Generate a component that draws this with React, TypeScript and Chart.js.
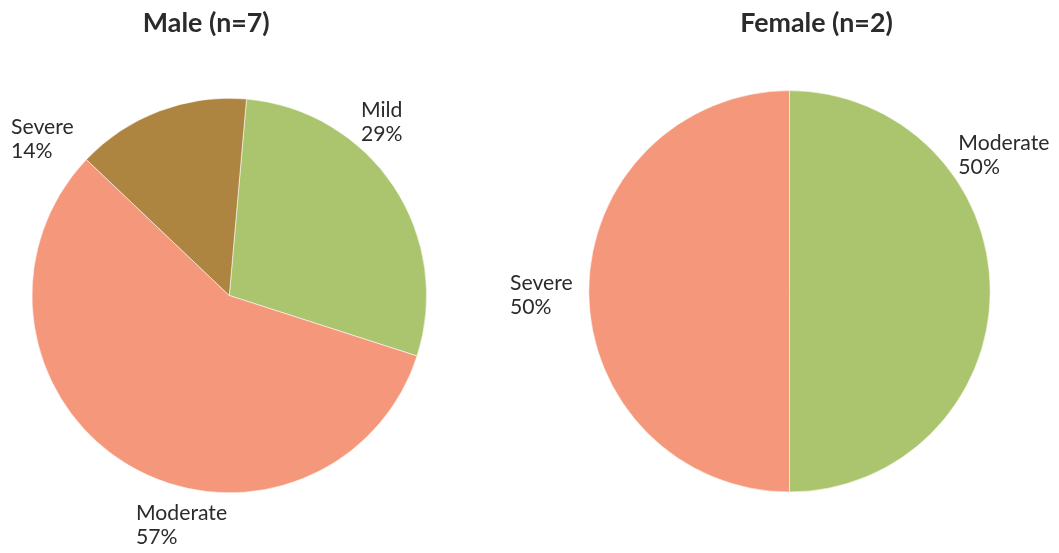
import React, { useEffect, useRef } from "react";
import { Chart, registerables } from "chart.js";

Chart.register(...registerables);

const maleCategories = ["Mild", "Moderate", "Severe"];
const maleCounts = [2, 4, 1];
const femaleCategories = ["Moderate", "Severe"];
const femaleCounts = [1, 1];
const maleTitle = "Male (n=7)";
const femaleTitle = "Female (n=2)";
const palette = ["#ABC56E", "#F5977A", "#AD8541"];

const TEXT_COLOR = "#2b2b2b";
const FONT_FAMILY = "Lato, 'Noto Sans', sans-serif";

const sliceLabelPlugin = {
  id: "sliceLabels",
  afterDraw(chart: any, _args: any, opts: any) {
    const meta = chart.getDatasetMeta(0);
    if (!meta || !meta.data.length) return;
    const cx = meta.data[0].x;
    const cy = meta.data[0].y;
    const ctx = chart.ctx;
    ctx.save();
    // title
    ctx.fillStyle = TEXT_COLOR;
    ctx.font = `bold ${opts.titleSize}px ${FONT_FAMILY}`;
    ctx.textAlign = "center";
    ctx.textBaseline = "alphabetic";
    ctx.fillText(opts.title, cx + opts.titleDx, opts.titleBaseline);
    // slice labels
    const data: number[] = chart.data.datasets[0].data;
    const total = data.reduce((a, b) => a + b, 0);
    ctx.font = `${opts.labelSize}px ${FONT_FAMILY}`;
    ctx.textAlign = "left";
    data.forEach((v, i) => {
      const off = opts.offsets[i];
      const x = cx + off[0];
      const y = cy + off[1];
      const pct = Math.round((v / total) * 100) + "%";
      ctx.fillText(String(chart.data.labels[i]), x, y);
      ctx.fillText(pct, x, y + opts.lineHeight);
    });
    ctx.restore();
  },
};

function makeConfig(
  labels: string[],
  values: number[],
  rotation: number,
  radius: number,
  padding: any,
  pluginOpts: any
): any {
  return {
    type: "pie",
    data: {
      labels,
      datasets: [
        {
          data: values,
          backgroundColor: palette.slice(0, values.length),
          borderColor: "rgba(255,255,255,0.7)",
          borderWidth: 0.8,
        },
      ],
    },
    options: {
      responsive: false,
      animation: false,
      rotation,
      radius,
      layout: { padding },
      events: [],
      plugins: {
        legend: { display: false },
        tooltip: { enabled: false },
        title: { display: false },
        sliceLabels: pluginOpts,
      },
    },
    plugins: [sliceLabelPlugin],
  };
}

export default function App() {
  const leftRef = useRef<HTMLCanvasElement | null>(null);
  const rightRef = useRef<HTMLCanvasElement | null>(null);

  useEffect(() => {
    document.body.style.margin = "0";
    let charts: Chart[] = [];
    let cancelled = false;
    const build = () => {
      if (cancelled || !leftRef.current || !rightRef.current) return;
      charts.push(
        new Chart(
          leftRef.current,
          makeConfig(
            maleCategories,
            maleCounts,
            5,
            197.3,
            { left: 0, right: 31.4, top: 50, bottom: 12 },
            {
              title: maleTitle,
              titleSize: 26.8,
              titleDx: -23,
              titleBaseline: 31.5,
              labelSize: 21.2,
              lineHeight: 24,
              offsets: [
                [131.7, -179],
                [-93.3, 224.5],
                [-218.3, -162],
              ],
            }
          )
        )
      );
      charts.push(
        new Chart(
          rightRef.current,
          makeConfig(
            femaleCategories,
            femaleCounts,
            0,
            200.7,
            { left: 30, right: 0, top: 50, bottom: 20.4 },
            {
              title: femaleTitle,
              titleSize: 26.8,
              titleDx: 27,
              titleBaseline: 31.5,
              labelSize: 21.2,
              lineHeight: 24,
              offsets: [
                [168.8, -141.3],
                [-279.5, -1.3],
              ],
            }
          )
        )
      );
    };
    const fonts: any = (document as any).fonts;
    if (fonts && fonts.load) {
      Promise.all([
        fonts.load(`21px Lato`),
        fonts.load(`bold 26px Lato`),
      ])
        .catch(() => {})
        .then(build);
    } else {
      build();
    }
    return () => {
      cancelled = true;
      charts.forEach((c) => c.destroy());
      charts = [];
    };
  }, []);

  return (
    <div
      style={{
        position: "absolute",
        left: 0,
        top: 0,
        width: 1059,
        height: 553,
        background: "#ffffff",
      }}
    >
      <canvas
        ref={leftRef}
        width={490}
        height={553}
        style={{ position: "absolute", left: 0, top: 0, width: 490, height: 553 }}
      />
      <canvas
        ref={rightRef}
        width={569}
        height={553}
        style={{ position: "absolute", left: 490, top: 0, width: 569, height: 553 }}
      />
    </div>
  );
}
